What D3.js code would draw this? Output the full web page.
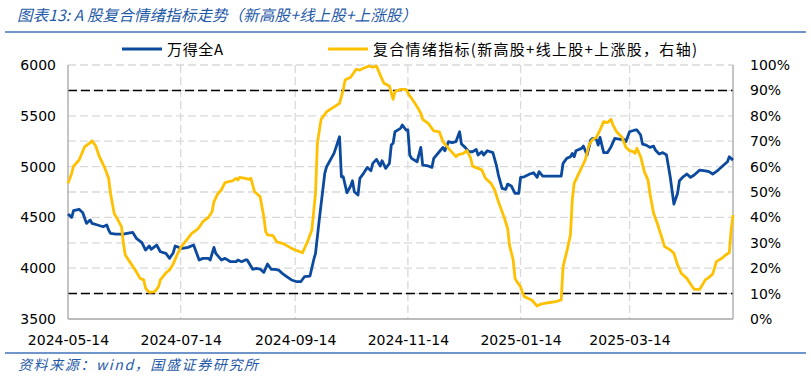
<!DOCTYPE html>
<html><head><meta charset="utf-8">
<script src="https://cdn.jsdelivr.net/npm/d3@7"></script>
<style>body{margin:0;background:#fff;} svg{display:block;}</style>
</head><body><svg id="c" width="811" height="378"></svg>
<script>
const titleText = "图表13:  A 股复合情绪指标走势（新高股+线上股+上涨股）";
const sourceText = "资料来源：wind，国盛证券研究所";
const seriesNames = ["万得全A", "复合情绪指标(新高股+线上股+上涨股，右轴)"];
const xTickLabels = ["2024-05-14","2024-07-14","2024-09-14","2024-11-14","2025-01-14","2025-03-14"];
const xDomain = ["2024-05-14","2025-05-09"];
const leftTicks = [3500,4000,4500,5000,5500,6000];
const rightTicks = [0,10,20,30,40,50,60,70,80,90,100];
const refLevels = [90,10];

const windADates = ["2024-05-14","2024-05-16","2024-05-17","2024-05-20","2024-05-22","2024-05-24","2024-05-26","2024-05-27","2024-05-30","2024-06-02","2024-06-04","2024-06-05","2024-06-06","2024-06-09","2024-06-13","2024-06-15","2024-06-18","2024-06-20","2024-06-23","2024-06-25","2024-06-27","2024-06-28","2024-07-01","2024-07-03","2024-07-06","2024-07-08","2024-07-10","2024-07-11","2024-07-13","2024-07-15","2024-07-18","2024-07-21","2024-07-22","2024-07-24","2024-07-26","2024-07-29","2024-07-30","2024-08-01","2024-08-02","2024-08-05","2024-08-07","2024-08-10","2024-08-13","2024-08-14","2024-08-16","2024-08-18","2024-08-19","2024-08-22","2024-08-24","2024-08-26","2024-08-28","2024-08-30","2024-09-01","2024-09-03","2024-09-05","2024-09-07","2024-09-09","2024-09-12","2024-09-15","2024-09-17","2024-09-19","2024-09-22","2024-09-24","2024-09-25","2024-09-27","2024-09-30","2024-10-01","2024-10-05","2024-10-08","2024-10-09","2024-10-10","2024-10-12","2024-10-14","2024-10-15","2024-10-16","2024-10-18","2024-10-19","2024-10-21","2024-10-23","2024-10-25","2024-10-26","2024-10-28","2024-10-30","2024-10-31","2024-11-02","2024-11-04","2024-11-05","2024-11-06","2024-11-07","2024-11-10","2024-11-11","2024-11-13","2024-11-14","2024-11-15","2024-11-16","2024-11-19","2024-11-21","2024-11-22","2024-11-25","2024-11-27","2024-11-28","2024-12-01","2024-12-03","2024-12-04","2024-12-06","2024-12-08","2024-12-10","2024-12-12","2024-12-13","2024-12-15","2024-12-17","2024-12-19","2024-12-21","2024-12-22","2024-12-24","2024-12-25","2024-12-27","2024-12-30","2025-01-01","2025-01-02","2025-01-04","2025-01-06","2025-01-07","2025-01-09","2025-01-11","2025-01-13","2025-01-14","2025-01-16","2025-01-19","2025-01-21","2025-01-23","2025-01-24","2025-01-26","2025-01-31","2025-02-05","2025-02-06","2025-02-08","2025-02-10","2025-02-11","2025-02-12","2025-02-13","2025-02-16","2025-02-17","2025-02-19","2025-02-21","2025-02-22","2025-02-24","2025-02-25","2025-02-26","2025-02-28","2025-03-02","2025-03-04","2025-03-06","2025-03-09","2025-03-11","2025-03-12","2025-03-14","2025-03-17","2025-03-18","2025-03-20","2025-03-21","2025-03-23","2025-03-25","2025-03-27","2025-03-28","2025-03-30","2025-04-01","2025-04-03","2025-04-05","2025-04-07","2025-04-09","2025-04-10","2025-04-12","2025-04-14","2025-04-16","2025-04-18","2025-04-21","2025-04-24","2025-04-26","2025-04-28","2025-05-01","2025-05-04","2025-05-06","2025-05-07","2025-05-09"];
const windAValues = [4533,4500,4566,4580,4546,4441,4474,4441,4425,4408,4425,4376,4343,4336,4336,4343,4353,4294,4251,4179,4218,4186,4228,4162,4146,4097,4153,4218,4205,4195,4205,4228,4179,4081,4097,4097,4081,4205,4146,4081,4097,4064,4064,4081,4064,4081,4081,3989,3999,3992,3959,4041,3989,3989,3982,3949,3923,3884,3867,3867,3916,3923,4081,4146,4474,4934,4999,5130,5294,4900,4900,4743,4809,4861,4753,4720,4884,4934,4992,4959,5032,5071,5006,5058,4983,5032,5212,5229,5343,5376,5409,5360,5360,5114,5081,5048,5189,5015,5006,4992,5081,5146,5189,5156,5245,5235,5245,5343,5222,5189,5146,5146,5169,5114,5146,5114,5156,5137,5006,4917,4786,4776,4828,4809,4737,4737,4894,4900,4927,4940,4894,4950,4907,4907,4907,5032,5081,5097,5130,5097,5156,5179,5202,5114,5261,5278,5268,5212,5288,5137,5137,5196,5278,5268,5268,5245,5343,5360,5360,5311,5222,5212,5189,5202,5163,5124,5137,5114,4900,4632,4737,4861,4900,4927,4894,4917,4966,4959,4950,4927,4966,5015,5048,5097,5064];

const sentDates = ["2024-05-14","2024-05-16","2024-05-17","2024-05-20","2024-05-23","2024-05-26","2024-05-27","2024-05-29","2024-05-31","2024-06-03","2024-06-05","2024-06-06","2024-06-08","2024-06-10","2024-06-12","2024-06-13","2024-06-14","2024-06-17","2024-06-20","2024-06-22","2024-06-24","2024-06-25","2024-06-27","2024-06-30","2024-07-02","2024-07-03","2024-07-06","2024-07-08","2024-07-10","2024-07-12","2024-07-14","2024-07-16","2024-07-20","2024-07-23","2024-07-24","2024-07-26","2024-07-29","2024-07-31","2024-08-01","2024-08-03","2024-08-05","2024-08-07","2024-08-09","2024-08-11","2024-08-13","2024-08-14","2024-08-15","2024-08-18","2024-08-20","2024-08-21","2024-08-23","2024-08-26","2024-08-28","2024-08-29","2024-08-30","2024-09-02","2024-09-04","2024-09-07","2024-09-09","2024-09-12","2024-09-15","2024-09-18","2024-09-21","2024-09-23","2024-09-25","2024-09-26","2024-09-28","2024-10-01","2024-10-04","2024-10-08","2024-10-10","2024-10-11","2024-10-14","2024-10-17","2024-10-19","2024-10-21","2024-10-24","2024-10-26","2024-10-28","2024-10-30","2024-11-01","2024-11-04","2024-11-06","2024-11-07","2024-11-10","2024-11-13","2024-11-15","2024-11-16","2024-11-19","2024-11-21","2024-11-22","2024-11-25","2024-11-28","2024-12-01","2024-12-03","2024-12-06","2024-12-10","2024-12-11","2024-12-14","2024-12-16","2024-12-18","2024-12-19","2024-12-22","2024-12-24","2024-12-26","2024-12-29","2024-12-31","2025-01-02","2025-01-05","2025-01-07","2025-01-08","2025-01-10","2025-01-11","2025-01-12","2025-01-14","2025-01-15","2025-01-16","2025-01-20","2025-01-23","2025-01-25","2025-01-29","2025-02-02","2025-02-05","2025-02-06","2025-02-08","2025-02-10","2025-02-11","2025-02-12","2025-02-15","2025-02-18","2025-02-20","2025-02-22","2025-02-24","2025-02-26","2025-02-28","2025-03-02","2025-03-04","2025-03-05","2025-03-07","2025-03-10","2025-03-12","2025-03-14","2025-03-16","2025-03-17","2025-03-18","2025-03-20","2025-03-22","2025-03-24","2025-03-25","2025-03-27","2025-03-29","2025-03-31","2025-04-02","2025-04-05","2025-04-07","2025-04-09","2025-04-11","2025-04-14","2025-04-16","2025-04-18","2025-04-21","2025-04-24","2025-04-26","2025-04-28","2025-04-30","2025-05-03","2025-05-05","2025-05-07","2025-05-08","2025-05-09"];
const sentValues = [53.4,57.4,60.2,62.6,67.8,69.4,70.2,68.1,63.9,59.3,55.4,49.5,41.6,39.0,36.3,29.8,25.2,21.9,18.6,16.0,15.4,12.1,10.5,10.8,12.7,15.4,18.2,19.3,21.7,25.2,28.2,30.0,33.7,35.3,36.1,38.3,40.0,42.2,46.2,49.2,50.8,53.7,54.1,54.4,55.4,54.7,55.8,55.4,55.0,55.4,50.1,48.2,40.3,34.4,33.1,32.8,30.4,29.8,29.1,27.8,26.9,26.1,31.1,35.0,49.5,69.2,78.6,81.6,83.0,84.9,90.2,94.1,95.2,98.3,98.0,98.7,99.6,99.1,99.6,96.1,92.8,91.7,86.5,89.5,90.4,90.4,87.8,86.9,83.6,81.0,78.6,77.0,74.1,73.7,69.8,67.2,63.9,64.6,65.2,66.3,63.3,60.2,59.3,58.7,55.4,53.4,50.8,46.2,40.3,35.7,29.1,23.2,16.0,14.7,12.7,10.4,8.8,7.5,5.1,5.9,6.4,6.8,7.5,20.6,26.5,33.1,46.9,53.4,58.0,62.6,68.5,70.7,71.5,74.4,77.7,77.3,78.6,76.4,73.7,71.5,67.6,66.3,65.9,65.2,67.2,63.9,58.0,54.7,49.5,41.6,37.7,33.1,28.5,27.2,25.9,21.3,18.0,16.0,13.8,11.7,11.7,15.4,16.4,17.7,22.6,23.9,25.2,26.1,35.0,40.9];

const BLUE = "#0B4A9E", YELLOW = "#FFC000", TEXTBLUE = "#1F5AA8";
const NUMFONT = "DejaVu Sans, Verdana, sans-serif";
const CJKFONT = "'Noto Sans CJK SC', sans-serif";

const parse = d3.utcParse("%Y-%m-%d");
const svg = d3.select("#c");
const L = 68, R = 733, T = 65, B = 319;

const x = d3.scaleUtc().domain(xDomain.map(parse)).range([L, R]);
const yL = d3.scaleLinear().domain([3500, 6000]).range([B, T]);
const yR = d3.scaleLinear().domain([0, 100]).range([B, T]);

// title
svg.append("text").attr("x", 17).attr("y", 21).text(titleText)
  .attr("font-family", CJKFONT).attr("font-size", 15.5).attr("font-style", "italic")
  .attr("fill", TEXTBLUE).attr("textLength", 400).attr("lengthAdjust", "spacing");
// separator lines
svg.append("line").attr("x1", 5).attr("x2", 806).attr("y1", 32).attr("y2", 32)
  .attr("stroke", "#6F95CB").attr("stroke-width", 2);
svg.append("line").attr("x1", 5).attr("x2", 806).attr("y1", 353).attr("y2", 353)
  .attr("stroke", "#6F95CB").attr("stroke-width", 2);
// source
svg.append("text").attr("x", 18).attr("y", 370).text(sourceText)
  .attr("font-family", CJKFONT).attr("font-size", 14).attr("font-style", "italic")
  .attr("fill", TEXTBLUE).attr("textLength", 240).attr("lengthAdjust", "spacing");

// gridlines horizontal (right-axis steps)
svg.append("g").selectAll("line").data(rightTicks.filter(d => d > 0)).join("line")
  .attr("x1", L).attr("x2", R).attr("y1", d => yR(d)).attr("y2", d => yR(d))
  .attr("stroke", "#D9D9D9").attr("stroke-width", 1.3).attr("stroke-dasharray", "8,4");
// vertical gridlines
svg.append("g").selectAll("line").data(xTickLabels.slice(1)).join("line")
  .attr("x1", d => x(parse(d))).attr("x2", d => x(parse(d))).attr("y1", T).attr("y2", B)
  .attr("stroke", "#D9D9D9").attr("stroke-width", 1.3).attr("stroke-dasharray", "8,4");
// reference lines
svg.append("g").selectAll("line").data(refLevels).join("line")
  .attr("x1", L).attr("x2", R).attr("y1", d => yR(d)).attr("y2", d => yR(d))
  .attr("stroke", "#000").attr("stroke-width", 1.5).attr("stroke-dasharray", "9,4");

// axes lines
const axisColor = "#A6A6A6";
svg.append("line").attr("x1", L).attr("x2", L).attr("y1", T).attr("y2", B).attr("stroke", axisColor).attr("stroke-width", 1.3);
svg.append("line").attr("x1", R).attr("x2", R).attr("y1", T).attr("y2", B).attr("stroke", axisColor).attr("stroke-width", 1.3);
svg.append("line").attr("x1", L).attr("x2", R).attr("y1", B).attr("y2", B).attr("stroke", axisColor).attr("stroke-width", 1.3);

// axes labels
const gl = svg.append("g").attr("transform", `translate(${L},0)`)
  .call(d3.axisLeft(yL).tickValues(leftTicks).tickSize(0).tickPadding(12).tickFormat(d3.format("d")));
const gr = svg.append("g").attr("transform", `translate(${R},0)`)
  .call(d3.axisRight(yR).tickValues(rightTicks).tickSize(0).tickPadding(17).tickFormat(d => d + "%"));
const gb = svg.append("g").attr("transform", `translate(0,${B})`)
  .call(d3.axisBottom(x).tickValues(xTickLabels.map(parse)).tickSize(0).tickPadding(16).tickFormat(d3.utcFormat("%Y-%m-%d")));
[gl, gr, gb].forEach(g => {
  g.select(".domain").remove();
  g.selectAll("text").attr("font-family", NUMFONT).attr("font-size", 14).attr("fill", "#000");
});

// lines
const blueData = windADates.map((d, i) => [parse(d), windAValues[i]]);
const yelData = sentDates.map((d, i) => [parse(d), sentValues[i]]);
svg.append("path").datum(blueData)
  .attr("d", d3.line().x(d => x(d[0])).y(d => yL(d[1])))
  .attr("fill", "none").attr("stroke", BLUE).attr("stroke-width", 2.8).attr("stroke-linejoin", "round");
svg.append("path").datum(yelData)
  .attr("d", d3.line().x(d => x(d[0])).y(d => yR(d[1])))
  .attr("fill", "none").attr("stroke", YELLOW).attr("stroke-width", 2.8).attr("stroke-linejoin", "round");

// legend
const legend = [{name: seriesNames[0], color: BLUE, x: 122, w: 56}, {name: seriesNames[1], color: YELLOW, x: 328, w: 324}];
const lg = svg.append("g").selectAll("g").data(legend).join("g");
lg.append("line").attr("x1", d => d.x).attr("x2", d => d.x + 40).attr("y1", 49).attr("y2", 49)
  .attr("stroke", d => d.color).attr("stroke-width", 3);
lg.append("text").attr("x", d => d.x + 45).attr("y", 55).text(d => d.name)
  .attr("font-family", CJKFONT).attr("font-size", 15).attr("fill", "#000")
  .attr("textLength", d => d.w).attr("lengthAdjust", "spacing");
</script></body></html>
